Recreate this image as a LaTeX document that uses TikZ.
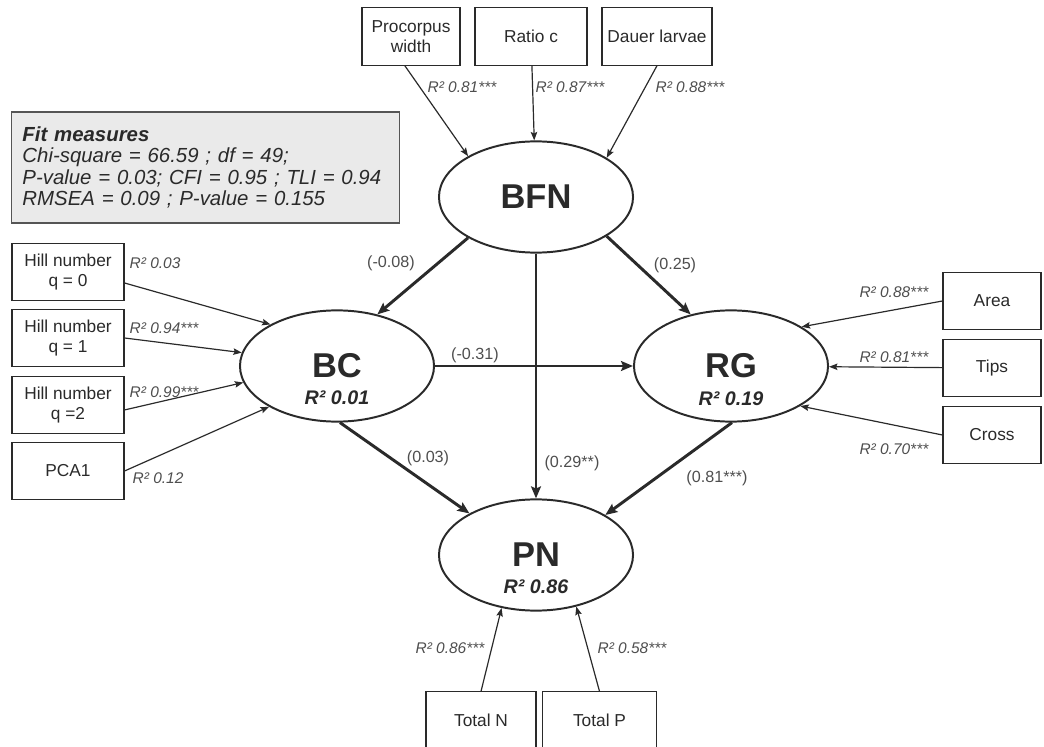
\documentclass[tikz,border=0pt]{standalone}
\usepackage{fontspec}
\setmainfont{Liberation Sans}
\usepackage{tikz}
\usetikzlibrary{shapes.geometric}
\usetikzlibrary{arrows.meta}
\definecolor{ink}{HTML}{2A2A2A}
\definecolor{soft}{HTML}{4E4E4E}
\definecolor{fitgrey}{HTML}{EAEAEA}

\begin{document}
\begin{tikzpicture}[x=0.025cm,y=-0.025cm,
  indicator/.style={draw=ink,line width=.8pt,minimum width=2.8cm,minimum height=1.43cm,inner sep=2pt,align=center,text=ink,font=\fontsize{12.3}{14.3}\selectfont},
  latent/.style={ellipse,draw=ink,line width=1.4pt,minimum width=4.85cm,minimum height=2.78cm,inner sep=0pt,text=ink,font=\fontsize{24.5}{27}\selectfont\bfseries},
  latrsq/.style={text=ink,inner sep=1pt,font=\fontsize{14}{16}\selectfont\bfseries\itshape},
  rsq/.style={text=soft,inner sep=1pt,font=\fontsize{11}{13}\selectfont\itshape},
  coef/.style={text=soft,inner sep=1pt,font=\fontsize{11.5}{13}\selectfont},
  loading/.style={draw=ink,line width=.85pt,-{Stealth[length=6pt,width=4.6pt,inset=1pt]}},
  effect/.style={draw=ink,line width=2.1pt,-{Stealth[length=8.5pt,width=7pt,inset=1.5pt]}},
  fitbox/.style={draw=ink!80,fill=fitgrey,line width=.8pt,text width=9.15cm,inner xsep=.275cm,minimum height=2.775cm,align=left,text=ink,font=\fontsize{14.5}{15.2}\selectfont\itshape}]
  \useasboundingbox (0,0) rectangle (1044,747);
  \clip (0,0) rectangle (1044,747);

  % fit box
  \node[fitbox] (fit) at (205.5,167.5) {\textbf{Fit measures}\\Chi-square = 66.59 ; df = 49;\\P-value = 0.03; CFI = 0.95 ; TLI = 0.94\\RMSEA = 0.09 ; P-value = 0.155};

  % latent variables
  \node[latent] (bfn) at (536,197) {BFN};
  \node[latent] (bc) at (337,366) {BC};
  \node[latent] (rg) at (731,366) {RG};
  \node[latent] (pn) at (536,555) {PN};
  \node[latrsq] (bcr) at (337,398) {R² 0.01};
  \node[latrsq] (rgr) at (731,399) {R² 0.19};
  \node[latrsq] (pnr) at (536,587) {R² 0.86};

  % indicators
  \node[indicator,minimum width=2.45cm] (proc) at (411,36.5) {Procorpus\\width};
  \node[indicator] (ratio) at (531,36.5) {Ratio c};
  \node[indicator,minimum width=2.75cm] (dauer) at (657,36.5) {Dauer larvae};
  \node[indicator] (hq0) at (68,272) {Hill number\\q = 0};
  \node[indicator] (hq1) at (68,338) {Hill number\\q = 1};
  \node[indicator] (hq2) at (68,405) {Hill number\\q =2};
  \node[indicator] (pca) at (68,471) {PCA1};
  \node[indicator,minimum width=2.45cm] (area) at (992,301) {Area};
  \node[indicator,minimum width=2.45cm] (tips) at (992,368) {Tips};
  \node[indicator,minimum width=2.45cm] (cross) at (992,435) {Cross};
  \node[indicator,minimum width=2.75cm] (totn) at (481,720.5) {Total N};
  \node[indicator,minimum width=2.83cm] (totp) at (599.5,720.5) {Total P};

  % loadings
  \draw[loading] (proc.-102) -- (bfn.149.5);
  \draw[loading] (ratio) -- (bfn);
  \draw[loading] (dauer.south) -- (bfn.29.7);
  \draw[loading] (hq0.-11) -- (bc.148);
  \draw[loading] (hq1.east) -- (bc.172.7);
  \draw[loading] (hq2.-5) -- (bc.190);
  \draw[loading] (pca.east) -- (bc.211);
  \draw[loading] (area.west) -- (rg.29.4);
  \draw[loading] (tips) -- (rg);
  \draw[loading] (cross.west) -- (rg.-30);
  \draw[loading] (totn.north) -- (pn.237);
  \draw[loading] (totp.north) -- (pn.-52.3);

  % structural paths
  \draw[effect] (bfn.211) -- (bc.52);
  \draw[effect] (bfn.-29.7) -- (rg.128);
  \draw[effect] (bfn) -- (pn);
  \draw[effect] (bc) -- (rg);
  \draw[effect] (bc.-87) -- (pn.148.7);
  \draw[effect] (rg.-89) -- (pn.30);

  % R2 of indicators
  \node[rsq] (rproc) at (462,87) {R² 0.81***};
  \node[rsq] (rratio) at (570,87) {R² 0.87***};
  \node[rsq] (rdauer) at (690,87) {R² 0.88***};
  \node[rsq,anchor=west] (rhq0) at (128,263) {R² 0.03};
  \node[rsq,anchor=west] (rhq1) at (128,328) {R² 0.94***};
  \node[rsq,anchor=west] (rhq2) at (128,392) {R² 0.99***};
  \node[rsq,anchor=west] (rpca) at (131,478) {R² 0.12};
  \node[rsq,anchor=east] (rarea) at (930,292) {R² 0.88***};
  \node[rsq,anchor=east] (rtips) at (930,357) {R² 0.81***};
  \node[rsq,anchor=east] (rcross) at (930,449) {R² 0.70***};
  \node[rsq] (rtotn) at (450,648) {R² 0.86***};
  \node[rsq] (rtotp) at (632,648) {R² 0.58***};

  % path coefficients
  \node[coef] (cbfnbc) at (391,263) {(-0.08)};
  \node[coef] (cbfnrg) at (675,265) {(0.25)};
  \node[coef] (cbcrg) at (475,355) {(-0.31)};
  \node[coef] (cbcpn) at (428,458) {(0.03)};
  \node[coef] (cbfnpn) at (572,463) {(0.29**)};
  \node[coef] (crgpn) at (717,478) {(0.81***)};
\end{tikzpicture}
\end{document}
